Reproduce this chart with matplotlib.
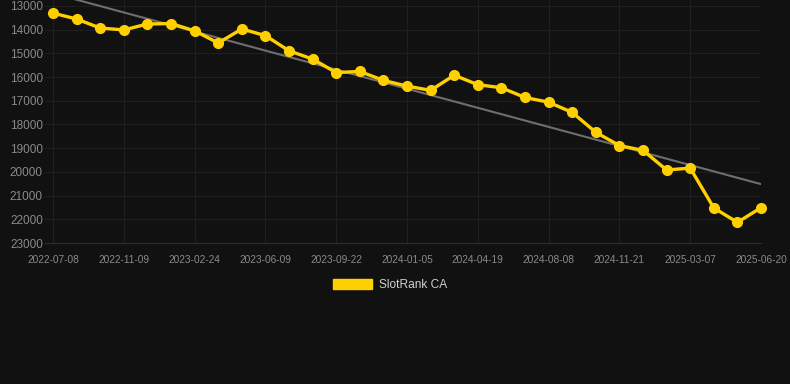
import numpy as np
import matplotlib.pyplot as plt

plt.rcParams["font.family"] = ["Liberation Sans", "DejaVu Sans"]

# rank values, one per sample date
ranks = [13300, 13550, 13930, 14010, 13760, 13740, 14050, 14560, 13970, 14250,
         14890, 15240, 15810, 15760, 16140, 16380, 16560, 15920, 16320, 16450,
         16860, 17060, 17490, 18330, 18890, 19090, 19920, 19840, 21520, 22130,
         21510]
tick_labels = ["2022-07-08", "2022-11-09", "2023-02-24", "2023-06-09", "2023-09-22",
               "2024-01-05", "2024-04-19", "2024-08-08", "2024-11-21", "2025-03-07",
               "2025-06-20"]
y_ticks = [13000, 14000, 15000, 16000, 17000, 18000, 19000, 20000, 21000, 22000, 23000]

bg = "#111111"
gold = "#FFD000"

x = np.arange(len(ranks))
slope, inter = np.polyfit(x, ranks, 1)

fig = plt.figure(figsize=(7.9, 3.84), dpi=100, facecolor=bg)
ax = fig.add_axes([45 / 790, 1 - 243 / 384, (761 - 45) / 790, 243 / 384])
ax.set_facecolor(bg)

ax.plot(x, slope * x + inter, color="#6e6e6e", lw=1.5, zorder=2)
ax.plot(x, ranks, color=gold, lw=2.4, marker="o", ms=7, zorder=3,
        clip_on=False, label="SlotRank CA")

ax.set_xlim(-0.34, len(ranks) - 1)
ax.set_ylim(23000, 12747)
ax.set_yticks(y_ticks)
ax.set_xticks(x[::3])
ax.set_xticklabels(tick_labels)

ax.grid(True, color="#1f1f1f", lw=0.8)
ax.set_axisbelow(True)
for s in ["top", "right", "left"]:
    ax.spines[s].set_visible(False)
ax.spines["bottom"].set_color("#2e2e2e")
ax.tick_params(axis="y", length=0, pad=1.5, labelsize=8.5, labelcolor="#8a8a8a")
ax.tick_params(axis="x", length=0, pad=8.5, labelsize=7.3, labelcolor="#8a8a8a")

leg = fig.legend(handles=[plt.Rectangle((0, 0), 1, 1, color=gold)],
                 labels=["SlotRank CA"], loc="center", bbox_to_anchor=(390 / 790, 1 - 285 / 384),
                 frameon=False, fontsize=8.6, handlelength=3.3, handleheight=0.9,
                 handletextpad=0.55)
for t in leg.get_texts():
    t.set_color("#d0d0d0")

fig.savefig("out.png", dpi=100, facecolor=bg)
